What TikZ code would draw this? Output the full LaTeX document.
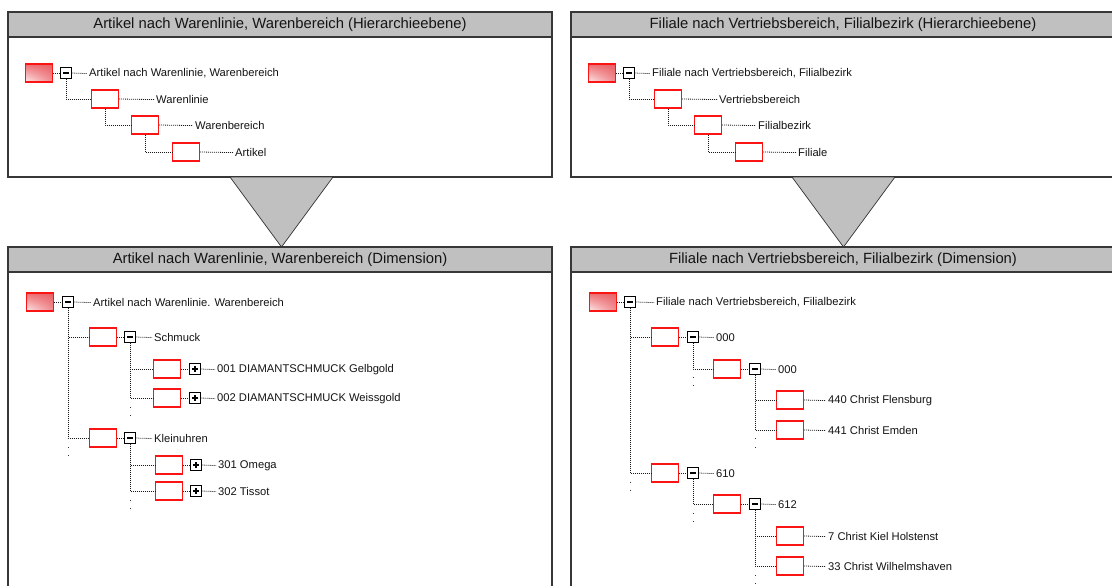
\documentclass[tikz,border=0pt]{standalone}
\usepackage{fontspec}
\setmainfont{Liberation Sans}
\usetikzlibrary{shadings}
\definecolor{titlegray}{RGB}{192,192,192}
\definecolor{framecol}{RGB}{55,55,55}
\definecolor{txtcol}{RGB}{20,20,20}
\definecolor{boxred}{RGB}{250,20,20}
\definecolor{rul}{RGB}{238,110,115}
\definecolor{rur}{RGB}{232,95,100}
\definecolor{rll}{RGB}{252,235,235}
\definecolor{rlr}{RGB}{240,140,145}
\tikzset{
  panel/.style={draw=framecol, line width=1.3, fill=white},
  titlebar/.style={draw=framecol, line width=1.3, fill=titlegray},
  ttl/.style={text=txtcol, font=\fontsize{14.8}{16}\selectfont, inner sep=0},
  arrowtri/.style={draw=black!80, line width=0.7, fill=titlegray},
  box/.style={draw=boxred, line width=1.2, fill=white, minimum width=27, minimum height=18, inner sep=0},
  rootbox/.style={box, upper left=rul, upper right=rur, lower left=rll, lower right=rlr},
  tog/.style={draw=black, line width=0.85, fill=white, minimum size=10.5, inner sep=0},
  minus/.style={tog, path picture={\draw[line width=1.4] ([xshift=-2.6pt]path picture bounding box.center) -- ([xshift=2.6pt]path picture bounding box.center);}},
  plus/.style={tog, path picture={\draw[line width=1.2] ([xshift=-2.8pt]path picture bounding box.center) -- ([xshift=2.8pt]path picture bounding box.center) ([yshift=-2.8pt]path picture bounding box.center) -- ([yshift=2.8pt]path picture bounding box.center);}},
  lbl/.style={anchor=west, text=txtcol, font=\fontsize{11.2}{12}\selectfont, inner xsep=2, inner ysep=0, yshift=-0.6pt},
  conn/.style={draw=black!90, line width=0.8, dash pattern=on 1pt off 1pt},
  dotmark/.style={fill=black!80}
}
\begin{document}
\begin{tikzpicture}[x=1pt,y=-1pt]
\useasboundingbox (0,0) rectangle (1112,586);
\clip (0,0) rectangle (1112,586);
\fill[white] (0,0) rectangle (1112,586);

% ---------- panels ----------
\draw[panel] (8,12) rectangle (552,177);
\draw[titlebar] (8,12) rectangle (552,37);
\node[ttl] (t1) at (280,25) {Artikel nach Warenlinie, Warenbereich (Hierarchieebene)};

\draw[panel] (571,12) rectangle (1116,177);
\draw[titlebar] (571,12) rectangle (1116,37);
\node[ttl] (t2) at (843,25) {Filiale nach Vertriebsbereich, Filialbezirk (Hierarchieebene)};

\draw[panel] (8,247) rectangle (552,600);
\draw[titlebar] (8,247) rectangle (552,272);
\node[ttl] (t3) at (280,260) {Artikel nach Warenlinie, Warenbereich (Dimension)};

\draw[panel] (571,247) rectangle (1116,600);
\draw[titlebar] (571,247) rectangle (1116,272);
\node[ttl] (t4) at (843,260) {Filiale nach Vertriebsbereich, Filialbezirk (Dimension)};

% ---------- triangles ----------
\draw[arrowtri] (230,177) -- (333,177) -- (281.5,247) -- cycle;
\draw[arrowtri] (792,177) -- (895,177) -- (843.5,247) -- cycle;

% ---------- top-left tree ----------
\node[rootbox] (a0) at (39,73) {};
\node[minus] (a0t) at (66,73) {};
\node[lbl] (a0l) at (87,73) {Artikel nach Warenlinie, Warenbereich};
\node[box] (a1) at (105,99) {};
\node[lbl] (a1l) at (154,99) {Warenlinie};
\node[box] (a2) at (145,125) {};
\node[lbl] (a2l) at (193,125) {Warenbereich};
\node[box] (a3) at (186,152) {};
\node[lbl] (a3l) at (233,152) {Artikel};
\draw[conn] (a0.east) -- (a0t.west);
\draw[conn] (a0t.east) -- (a0l.west);
\draw[conn] (a0t.south) |- (a1.west);
\draw[conn] (a1.east) -- (a1l.west);
\draw[conn] (a1.south) |- (a2.west);
\draw[conn] (a2.east) -- (a2l.west);
\draw[conn] (a2.south) |- (a3.west);
\draw[conn] (a3.east) -- (a3l.west);

% ---------- top-right tree ----------
\node[rootbox] (b0) at (602,73) {};
\node[minus] (b0t) at (629,73) {};
\node[lbl] (b0l) at (650,73) {Filiale nach Vertriebsbereich, Filialbezirk};
\node[box] (b1) at (668,99) {};
\node[lbl] (b1l) at (717,99) {Vertriebsbereich};
\node[box] (b2) at (708,125) {};
\node[lbl] (b2l) at (756,125) {Filialbezirk};
\node[box] (b3) at (749,152) {};
\node[lbl] (b3l) at (796,152) {Filiale};
\draw[conn] (b0.east) -- (b0t.west);
\draw[conn] (b0t.east) -- (b0l.west);
\draw[conn] (b0t.south) |- (b1.west);
\draw[conn] (b1.east) -- (b1l.west);
\draw[conn] (b1.south) |- (b2.west);
\draw[conn] (b2.east) -- (b2l.west);
\draw[conn] (b2.south) |- (b3.west);
\draw[conn] (b3.east) -- (b3l.west);

% ---------- bottom-left tree ----------
\node[rootbox] (c0) at (40,302) {};
\node[minus] (c0t) at (68,302) {};
\node[lbl] (c0l) at (91,302) {Artikel nach Warenlinie. Warenbereich};
\node[box] (c1) at (103,337) {};
\node[minus] (c1t) at (130,337) {};
\node[lbl] (c1l) at (152,337) {Schmuck};
\node[box] (c11) at (167,369) {};
\node[plus] (c11t) at (195,369) {};
\node[lbl] (c11l) at (215,369) {001 DIAMANTSCHMUCK Gelbgold};
\node[box] (c12) at (167,398) {};
\node[plus] (c12t) at (195,398) {};
\node[lbl] (c12l) at (215,398) {002 DIAMANTSCHMUCK Weissgold};
\node[box] (c2) at (103,438) {};
\node[minus] (c2t) at (130,438) {};
\node[lbl] (c2l) at (152,438) {Kleinuhren};
\node[box] (c21) at (169,465) {};
\node[plus] (c21t) at (196,465) {};
\node[lbl] (c21l) at (216,465) {301 Omega};
\node[box] (c22) at (169,491) {};
\node[plus] (c22t) at (196,491) {};
\node[lbl] (c22l) at (216,491) {302 Tissot};
\foreach \n in {c0,c1,c11,c12,c2,c21,c22}{
  \draw[conn] (\n.east) -- (\n t.west);
  \draw[conn] (\n t.east) -- (\n l.west);
}
\draw[conn] (c0t.south) |- (c1.west);
\draw[conn] (c0t.south) |- (c2.west);
\draw[conn] (c1t.south) |- (c11.west);
\draw[conn] (c1t.south) |- (c12.west);
\draw[conn] (c2t.south) |- (c21.west);
\draw[conn] (c2t.south) |- (c22.west);
\foreach \x/\y in {68/447,68/455,130/407,130/415,130/500,130/508}
  \fill[dotmark] (\x-0.5,\y-0.5) rectangle (\x+0.5,\y+0.5);

% ---------- bottom-right tree ----------
\node[rootbox] (d0) at (603,302) {};
\node[minus] (d0t) at (630,302) {};
\node[lbl] (d0l) at (654,302) {Filiale nach Vertriebsbereich, Filialbezirk};
\node[box] (d1) at (665,337) {};
\node[minus] (d1t) at (693,337) {};
\node[lbl] (d1l) at (714,337) {000};
\node[box] (d11) at (727,369) {};
\node[minus] (d11t) at (755,369) {};
\node[lbl] (d11l) at (776,369) {000};
\node[box] (d111) at (790,400) {};
\node[lbl] (d111l) at (826,400) {440 Christ Flensburg};
\node[box] (d112) at (790,430) {};
\node[lbl] (d112l) at (826,430) {441 Christ Emden};
\node[box] (d2) at (665,473) {};
\node[minus] (d2t) at (693,473) {};
\node[lbl] (d2l) at (714,473) {610};
\node[box] (d21) at (727,504) {};
\node[minus] (d21t) at (755,504) {};
\node[lbl] (d21l) at (776,504) {612};
\node[box] (d211) at (790,536) {};
\node[lbl] (d211l) at (826,536) {7 Christ Kiel Holstenst};
\node[box] (d212) at (790,566) {};
\node[lbl] (d212l) at (826,566) {33 Christ Wilhelmshaven};
\foreach \n in {d0,d1,d11,d2,d21}{
  \draw[conn] (\n.east) -- (\n t.west);
  \draw[conn] (\n t.east) -- (\n l.west);
}
\foreach \n in {d111,d112,d211,d212}
  \draw[conn] (\n.east) -- (\n l.west);
\draw[conn] (d0t.south) |- (d1.west);
\draw[conn] (d0t.south) |- (d2.west);
\draw[conn] (d1t.south) |- (d11.west);
\draw[conn] (d11t.south) |- (d111.west);
\draw[conn] (d11t.south) |- (d112.west);
\draw[conn] (d2t.south) |- (d21.west);
\draw[conn] (d21t.south) |- (d211.west);
\draw[conn] (d21t.south) |- (d212.west);
\foreach \x/\y in {630/482,630/490,693/377,693/385,755/438,755/447,693/513,693/521,755/575,755/583}
  \fill[dotmark] (\x-0.5,\y-0.5) rectangle (\x+0.5,\y+0.5);
\end{tikzpicture}
\end{document}
